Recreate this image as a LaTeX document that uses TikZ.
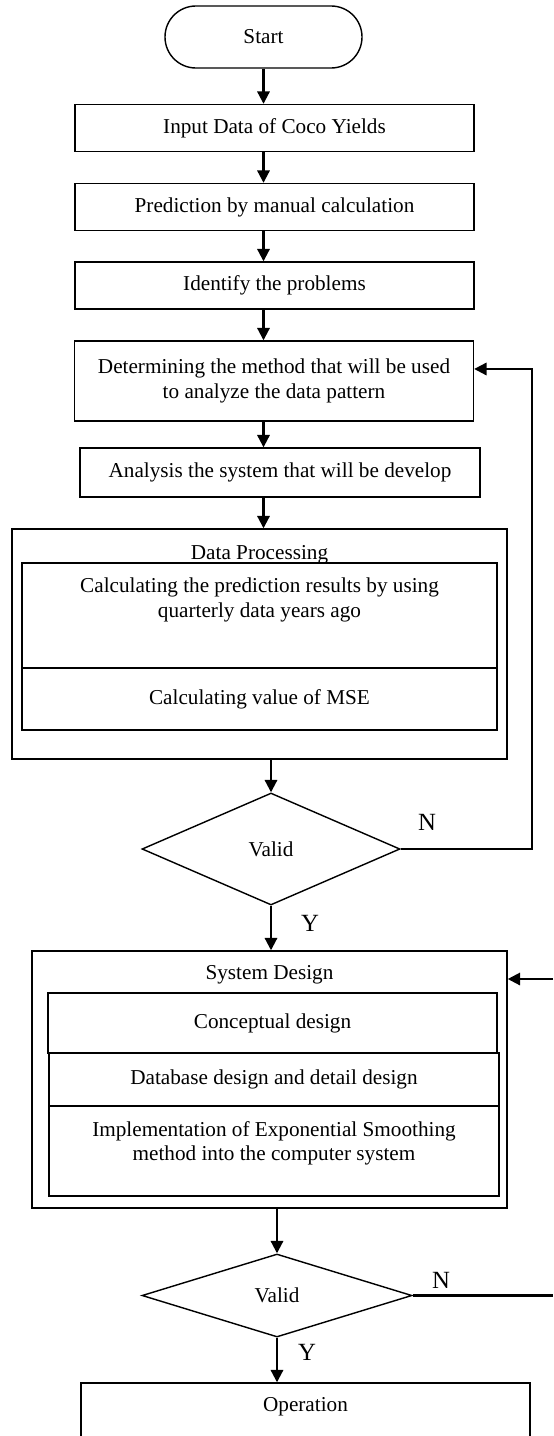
\documentclass[tikz,border=0pt]{standalone}
\usepackage{fontspec}
\setmainfont{Liberation Serif}
\usetikzlibrary{shapes.geometric,arrows.meta}

\begin{document}
\begin{tikzpicture}[x=0.566pt, y=-0.566pt,
    every node/.style={font=\fontsize{12}{13.8}\selectfont, align=center},
    procbox/.style={draw, line width=0.8pt, minimum width=225.8pt, minimum height=26.6pt, inner sep=0pt},
    panel/.style={draw, line width=0.8pt, inner sep=0pt},
    decision/.style={draw, diamond, line width=0.8pt, inner sep=0pt},
    arr/.style={line width=1.2pt, -{Triangle[length=7pt,width=7pt]}},
    yn/.style={font=\fontsize{14}{16}\selectfont}]

	\useasboundingbox (0,0) rectangle (553,1436);

	% first steps
	\node[draw, line width=0.8pt, rounded corners=17.5pt, minimum width=111.5pt, minimum height=35.1pt] (start) at (263.5,37) {Start};
	\node[procbox] (input) at (274.5,128) {Input Data of Coco Yields};
	\node[procbox] (pred) at (274.5,207) {Prediction by manual calculation};
	\node[procbox] (ident) at (274.5,285.5) {Identify the problems};
	\node[procbox, minimum height=45.3pt] (determ) at (274,381) {Determining the method that will be used\\to analyze the data pattern};
	\node[procbox, minimum width=226.4pt, minimum height=27.7pt] (analysis) at (280,472.5) {Analysis the system that will be develop};

	% data processing
	\node[panel, minimum width=280.2pt, minimum height=130.2pt] (dp) at (259.5,644) {};
	\node (dplabel) at (259.5,555) {Data Processing};
	\node[panel, minimum width=268.9pt, minimum height=59.4pt] (dp1) at (259.5,615.5) {};
	\node (dp1text) at (259.5,600) {Calculating the prediction results by using\\quarterly data years ago};
	\node[panel, minimum width=268.9pt, minimum height=35.1pt] (dp2) at (259.5,699) {Calculating value of MSE};

	% first check
	\node[decision, minimum width=146pt, minimum height=63.4pt] (valid1) at (271,849) {Valid};

	% system design
	\node[panel, minimum width=268.9pt, minimum height=145.5pt] (sd) at (269.5,1079.5) {};
	\node (sdlabel) at (269.5,975) {System Design};
	\node[panel, minimum width=254.1pt, minimum height=34pt] (concept) at (272.5,1023) {Conceptual design};
	\node[panel, minimum width=254.7pt, minimum height=30pt] (dbase) at (274,1079.5) {Database design and detail design};
	\node[panel, minimum width=254.7pt, minimum height=50.9pt] (impl) at (274,1151) {};
	\node (impltext) at (274,1143) {Implementation of Exponential Smoothing\\method into the computer system};

	% second check
	\node[decision, minimum width=152.8pt, minimum height=47pt] (valid2) at (277,1295.5) {Valid};

	% operation
	\node[panel, minimum width=254.1pt, minimum height=43.6pt] (op) at (305.5,1421.5) {};
	\node (optext) at (305.5,1407) {Operation};

	% arrows down
	\draw[arr] (start.south) -- (start.south |- input.north);
	\draw[arr] (input.south -| start.south) -- (pred.north -| start.south);
	\draw[arr] (pred.south -| start.south) -- (ident.north -| start.south);
	\draw[arr] (ident.south -| start.south) -- (determ.north -| start.south);
	\draw[arr] (determ.south -| start.south) -- (analysis.north -| start.south);
	\draw[arr] (analysis.south -| start.south) -- (dp.north -| start.south);
	\draw[arr] (dp.south -| valid1.north) -- (valid1.north);
	\draw[arr] (valid1.south) -- (valid1.south |- sd.north);
	\draw[arr] (sd.south -| valid2.north) -- (valid2.north);
	\draw[arr] (valid2.south) -- (valid2.south |- op.north);

	% loops back
	\coordinate (loop1) at (532,849);
	\draw[arr] (valid1.east) -- (loop1) |- ([yshift=6.8pt]determ.east);
	\coordinate (edge2) at (553,1295.5);
	\coordinate (edge1) at (553,979);
	\draw[line width=1.2pt] (valid2.east) -- (edge2);
	\draw[arr] (edge1) -- (sd.east |- edge1);

	% Y / N labels
	\node[yn] (n1) at (427,822) {N};
	\node[yn] (y1) at (310,923) {Y};
	\node[yn] (n2) at (441,1280) {N};
	\node[yn] (y2) at (307,1352) {Y};

\end{tikzpicture}
\end{document}
